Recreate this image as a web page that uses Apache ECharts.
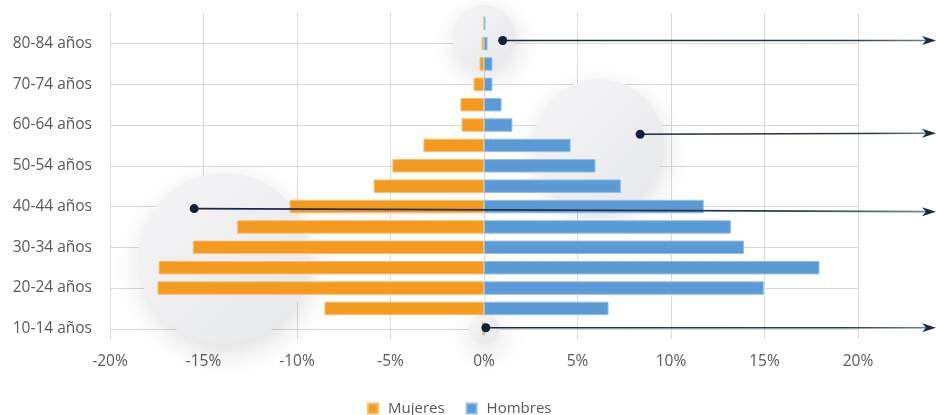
<!DOCTYPE html>
<html><head><meta charset="utf-8">
<script src="https://cdn.jsdelivr.net/npm/echarts@6/dist/echarts.min.js"></script>
<style>html,body{margin:0;padding:0;background:#fff}#c{width:936px;height:415px}</style>
</head><body><div id="c"></div>
<script>
const categories = ['10-14 años','15-19 años','20-24 años','25-29 años','30-34 años','35-39 años','40-44 años','45-49 años','50-54 años','55-59 años','60-64 años','65-69 años','70-74 años','75-79 años','80-84 años','85+ años'];
const mujeres = [-0.1, -8.53, -17.46, -17.4, -15.57, -13.2, -10.4, -5.9, -4.9, -3.24, -1.2, -1.26, -0.56, -0.24, -0.13, 0];
const hombres = [0.05, 6.66, 14.96, 17.94, 13.9, 13.2, 11.75, 7.32, 5.96, 4.63, 1.52, 0.94, 0.45, 0.45, 0.19, 0.08];
const xTicks = [-20, -15, -10, -5, 0, 5, 10, 15, 20];
const seriesNames = ['Mujeres', 'Hombres'];

const FONT = 'Open Sans';
const chart = echarts.init(document.getElementById('c'), null, {renderer: 'canvas'});
chart.setOption({
  animation: false,
  textStyle: {fontFamily: FONT},
  grid: {left: 110, right: 78, top: 13, bottom: 76},
  legend: {
    data: seriesNames, top: 396, left: 362, itemWidth: 10, itemHeight: 10, itemGap: 21,
    icon: 'rect', textStyle: {fontSize: 15, color: '#595959', fontFamily: FONT, padding: [0, 0, 0, 5]}
  },
  xAxis: {
    type: 'value', min: xTicks[0], max: xTicks[xTicks.length - 1], interval: 5,
    axisLine: {show: false}, axisTick: {show: false},
    axisLabel: {formatter: v => v + '%', fontSize: 15.5, color: '#595959', margin: 15},
    splitLine: {show: true, lineStyle: {color: '#d9d9d9', width: 1}}
  },
  yAxis: {
    type: 'category', data: categories, boundaryGap: true,
    axisLine: {show: false}, axisTick: {show: false},
    axisLabel: {interval: 1, fontSize: 15.5, color: '#595959', margin: 18},
    splitLine: {show: true, interval: 1, alignWithLabel: true, lineStyle: {color: '#d9d9d9', width: 1}}
  },
  series: [
    {name: seriesNames[0], type: 'bar', data: mujeres, barWidth: '66%', barGap: '-100%', z: 3,
     itemStyle: {color: '#F39A1F', borderColor: '#F7BF72', borderWidth: 1}},
    {name: seriesNames[1], type: 'bar', data: hombres, barWidth: '66%', z: 3,
     itemStyle: {color: '#5B9BD5', borderColor: '#93BEE6', borderWidth: 1}}
  ]
});

// decorative annotation anchors (data space: [percent, category index])
function px(x, yi) {
  const a = chart.convertToPixel({gridIndex: 0}, [x, 0]);
  const b = chart.convertToPixel({gridIndex: 0}, [x, 1]);
  return [a[0], a[1] + (b[1] - a[1]) * yi];
}
const W = 936;
const circles = [[0, 14.35, 1.55], [6.15, 9.05, 3.2], [-13.9, 3.45, 4.2], [0, 0, 0.75]];
const pointers = [[1.0, 14.15, 14.15], [8.35, 9.55, 9.6], [-15.5, 5.9, 5.75], [0.1, 0.05, 0.05]];
const unit = px(0, 1)[1] - px(0, 0)[1];
const g = [];
circles.forEach(c => {
  const p = px(c[0], c[1]);
  g.push({type: 'circle', z: 1, silent: true,
    shape: {cx: p[0], cy: p[1], r: Math.abs(unit) * c[2]},
    style: {
      fill: new echarts.graphic.LinearGradient(0, 0, 1, 1, [{offset: 0, color: '#f5f5f6'}, {offset: 1, color: '#e6e7ea'}]),
      shadowBlur: 26, shadowColor: 'rgba(0,0,0,0.13)', shadowOffsetX: 2, shadowOffsetY: 9
    }});
});
pointers.forEach(q => {
  const p = px(q[0], q[1]);
  const e = px(0, q[2]);
  const ey = e[1];
  g.push({type: 'line', z: 10, silent: true,
    shape: {x1: p[0], y1: p[1], x2: W - 6, y2: ey},
    style: {stroke: new echarts.graphic.LinearGradient(0, 0, 1, 0, [{offset: 0, color: '#1b2a44'}, {offset: 0.8, color: '#2c3a52'}, {offset: 1, color: '#7d8797'}]), lineWidth: 1.6}});
  g.push({type: 'polygon', z: 10, silent: true,
    shape: {points: [[W - 14, ey - 4.5], [W, ey], [W - 14, ey + 4.5], [W - 10, ey]]},
    style: {fill: '#1b2a44'}});
  g.push({type: 'circle', z: 11, silent: true,
    shape: {cx: p[0], cy: p[1], r: 4.5}, style: {fill: '#13223b'}});
});
chart.setOption({graphic: g});
</script>
</body></html>
